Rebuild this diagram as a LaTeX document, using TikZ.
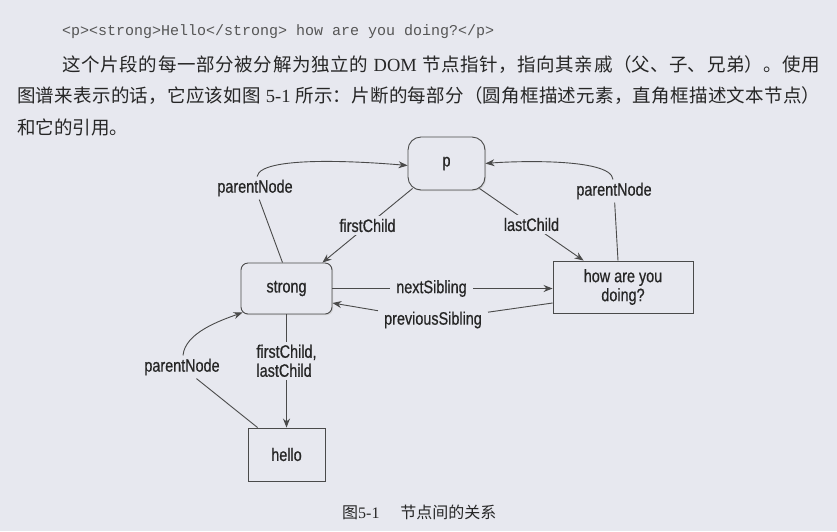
\documentclass[tikz,border=0pt]{standalone}
\usepackage{fontspec}
\setmainfont{Liberation Serif}
\newfontfamily\cjk{Noto Sans CJK SC}
\newfontfamily\codefont{Liberation Mono}
\newfontfamily\labelfont[FakeStretch=0.8, FakeBold=0.6]{Liberation Sans}
\usepackage{tikz}
\usetikzlibrary{arrows.meta,calc,shadows}
\definecolor{paper}{HTML}{E7E8EF}
\definecolor{ink}{HTML}{262626}
\definecolor{codeink}{HTML}{555555}
\definecolor{lineink}{HTML}{4A4A4A}
\XeTeXlinebreaklocale "zh"
\XeTeXlinebreakskip=0pt plus 2pt

\begin{document}
\begin{tikzpicture}[x=1pt, y=1pt,
			every node/.style = {text=ink},
			elem/.style = {draw=lineink, line width=0.9pt, fill=paper, align=center,
				font=\labelfont\fontsize{18}{19}\selectfont,
				drop shadow={shadow xshift=1.2pt, shadow yshift=-1.2pt, fill=black!25}},
			leaf/.style = {elem, sharp corners},
			lbl/.style = {fill=paper, inner xsep=6pt, inner ysep=3pt,
				font=\labelfont\fontsize{18}{19}\selectfont},
			link/.style = {draw=lineink, line width=0.9pt},
			rel/.style = {link, -{Stealth[length=9pt, width=7pt]}}
			]
			
			\fill[paper] (0,0) rectangle (837,-531);
			\useasboundingbox (0,0) rectangle (837,-531);
			
			% Text of the page
			\node[anchor=base west, inner sep=0pt, text=codeink,
				font=\codefont\fontsize{15}{15}\selectfont] (code) at (62,-35)
				{<p><strong>Hello</strong> how are you doing?</p>};
			\node[anchor=north west, inner sep=0pt, text width=803pt, align=justify,
				font=\fontsize{18.5}{31.5}\selectfont] (para) at (17,-55)
				{\hspace*{45pt}{\cjk 这个片段的每一部分被分解为独立的} DOM {\cjk 节点指针，指向其亲戚（父、子、兄弟）。使用}\linebreak
				{\cjk 图谱来表示的话，它应该如图} 5-1 {\cjk 所示：片断的每部分（圆角框描述元素，直角框描述文本节点）}\linebreak
				{\cjk 和它的引用。}};
			
			% Elements and text nodes
			\node[elem, rounded corners=13pt, minimum width=77pt, minimum height=53pt] (p) at (446.5,-163.5) {p};
			\node[elem, rounded corners=7pt, minimum width=91pt, minimum height=51pt] (strong) at (286.5,-288.5) {strong};
			\node[leaf, minimum width=140pt, minimum height=52pt] (how) at (623,-287) {how are you\\doing?};
			\node[leaf, minimum width=77pt, minimum height=53pt] (hello) at (286.5,-454.5) {hello};
			
			% Children of p
			\draw[rel] ($(p.south west)+(5,2)$) -- node[lbl] {firstChild} ($(strong.north east)+(-10,0)$);
			\draw[rel] ($(p.south east)+(-6,2)$) -- node[lbl] {lastChild} ($(how.north west)+(31,0)$);
			
			% Siblings
			\draw[rel] (strong.east) -- node[lbl, pos=0.45] {nextSibling} (strong.east -| how.west);
			\node[lbl] (prevlbl) at (433,-320) {previousSibling};
			\draw[rel] ($(how.west)+(0,-16)$) -- (prevlbl) -- ($(strong.east)+(0,-14.5)$);
			
			% Parents
			\node[lbl] (upleft) at (255,-188) {parentNode};
			\draw[link] ($(strong.north)+(-4,0)$) -- (upleft);
			\draw[rel] (upleft) to[out=80, in=175, looseness=0.4] ($(p.west)+(0,-2)$);
			
			\node[lbl] (upright) at (614,-191) {parentNode};
			\draw[link] ($(how.north)+(-5,0)$) -- (upright);
			\draw[rel] (upright) to[out=95, in=5, looseness=0.45] (p.east);
			
			\node[lbl] (upbottom) at (182,-367) {parentNode};
			\draw[link] ($(hello.north west)+(10,0)$) -- (upbottom);
			\draw[rel] (upbottom) to[out=85, in=200, looseness=0.8] ($(strong.south west)+(2,2)$);
			
			% Text child of strong
			\draw[rel] (strong) -- node[lbl, align=left, pos=0.41] {firstChild,\\lastChild} (hello);
			
			% Caption
			\node[anchor=base west, inner sep=0pt, font=\fontsize{16}{16}\selectfont] (cap) at (342,-518)
				{{\cjk 图}5-1\hspace{1.3em}{\cjk 节点间的关系}};
			
		\end{tikzpicture}
\end{document}
